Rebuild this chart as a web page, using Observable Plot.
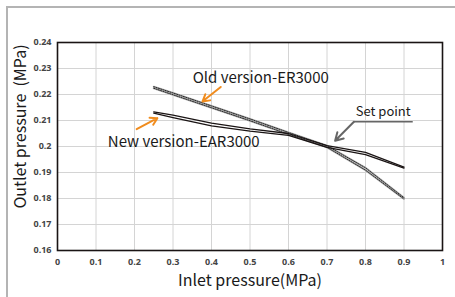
<!DOCTYPE html>
<html>
<head>
<meta charset="utf-8">
<script src="https://cdn.jsdelivr.net/npm/d3@7"></script>
<script src="https://cdn.jsdelivr.net/npm/@observablehq/plot@0.6"></script>
<style>
  html, body { margin: 0; padding: 0; background: #fff; overflow: hidden; }
  #wrap { position: relative; width: 455px; height: 297px; }
  #box { position: absolute; left: 6px; top: 6px; width: 470px; height: 320px; border: 2px solid #b4b4b4; box-sizing: border-box; }
  #chart { position: absolute; left: 0; top: 0; }
</style>
</head>
<body>
<div id="wrap"><div id="box"></div><div id="chart"></div></div>
<script>
// Inlet pressure (MPa)
const inlet = [0.25, 0.3, 0.4, 0.5, 0.6, 0.7, 0.8, 0.9];
// New version-EAR3000 (two branches of hysteresis)
const newUp   = [0.2133, 0.2121, 0.2090, 0.2068, 0.2050, 0.2003, 0.1977, 0.1921];
const newDown = [0.2128, 0.2111, 0.2079, 0.2059, 0.2043, 0.1997, 0.1969, 0.1917];
// Old version-ER3000 (two branches)
const oldUp   = [0.2230, 0.2206, 0.2156, 0.2106, 0.2054, 0.2003, 0.1918, 0.1803];
const oldDown = [0.2224, 0.2199, 0.2149, 0.2099, 0.2047, 0.1997, 0.1909, 0.1798];
const xTicks = [0, 0.1, 0.2, 0.3, 0.4, 0.5, 0.6, 0.7, 0.8, 0.9, 1];
const yTicks = [0.16, 0.17, 0.18, 0.19, 0.2, 0.21, 0.22, 0.23, 0.24];
const xLabel = "Inlet pressure(MPa)";
const yLabel = "Outlet pressure  (MPa)";
const oldName = "Old version-ER3000";
const newName = "New version-EAR3000";
const setName = "Set point";

const series = (ys, key) => inlet.map((x, i) => ({x, y: ys[i], key}));
const newData = [...series(newUp, "nu"), ...series(newDown, "nd")];
const oldData = [...series(oldUp, "ou"), ...series(oldDown, "od")];

const txtFont = "'Noto Sans CJK JP', 'Noto Sans', sans-serif";

const chart = Plot.plot({
  width: 455,
  height: 297,
  marginLeft: 57,
  marginRight: 13,
  marginTop: 42,
  marginBottom: 47,
  style: {background: "transparent", fontFamily: "'Open Sans', sans-serif", fontSize: "9px", color: "#333"},
  x: {domain: [0, 1], label: null},
  y: {domain: [0.16, 0.24], label: null},
  marks: [
    Plot.gridX(xTicks, {stroke: "#d4d4d4", strokeOpacity: 1, strokeWidth: 1}),
    Plot.gridY(yTicks, {stroke: "#d4d4d4", strokeOpacity: 1, strokeWidth: 1}),
    Plot.axisX(xTicks, {tickSize: 0, tickPadding: 8, fontWeight: "bold", fill: "#444", tickFormat: d => String(d)}),
    Plot.axisY(yTicks, {tickSize: 0, tickPadding: 6, fontWeight: "bold", fill: "#444", tickFormat: d => String(d)}),
    // old version: gray band with dark dotted edges
    Plot.line(oldData, {x: "x", y: "y", z: "key", stroke: "#b0b0b0", strokeWidth: 2}),
    Plot.line(oldData, {x: "x", y: "y", z: "key", stroke: "#2a2a2a", strokeWidth: 1, strokeDasharray: "1.2,1.2"}),
    // new version: solid black double line
    Plot.line(newData, {x: "x", y: "y", z: "key", stroke: "#1a1414", strokeWidth: 1.3}),
    Plot.frame({stroke: "#1a1414", strokeWidth: 1.6}),
    // annotations
    Plot.text([oldName], {x: 0.528, y: 0.2262, text: d => d, fontSize: 15, fontFamily: txtFont, fill: "#1a1a1a"}),
    Plot.text([newName], {x: 0.328, y: 0.2017, text: d => d, fontSize: 15, fontFamily: txtFont, fill: "#1a1a1a"}),
    Plot.text([setName], {x: 0.846, y: 0.2133, text: d => d, fontSize: 13, fontFamily: txtFont, fill: "#1a1a1a"}),
    Plot.ruleY([0.2095], {x1: 0.770, x2: 0.924, stroke: "#666", strokeWidth: 1.5}),
    Plot.arrow([0], {x1: 0.770, y1: 0.2095, x2: 0.721, y2: 0.2022, stroke: "#666", strokeWidth: 2, headLength: 12}),
    Plot.arrow([0], {x1: 0.424, y1: 0.2229, x2: 0.3765, y2: 0.2173, stroke: "#f08c1e", strokeWidth: 2, headLength: 11}),
    Plot.arrow([0], {x1: 0.2056, y1: 0.2067, x2: 0.2594, y2: 0.2109, stroke: "#f08c1e", strokeWidth: 2, headLength: 11}),
    // axis labels
    Plot.text([xLabel], {frameAnchor: "bottom", dy: 35, text: d => d, fontSize: 16, fontFamily: txtFont, fill: "#1a1a1a"}),
    Plot.text([yLabel], {frameAnchor: "left", textAnchor: "middle", lineAnchor: "middle", dx: -37, dy: -20, rotate: -90, text: d => d, fontSize: 16, fontFamily: txtFont, fill: "#1a1a1a"})
  ]
});
document.getElementById("chart").appendChild(chart);
</script>
</body>
</html>
